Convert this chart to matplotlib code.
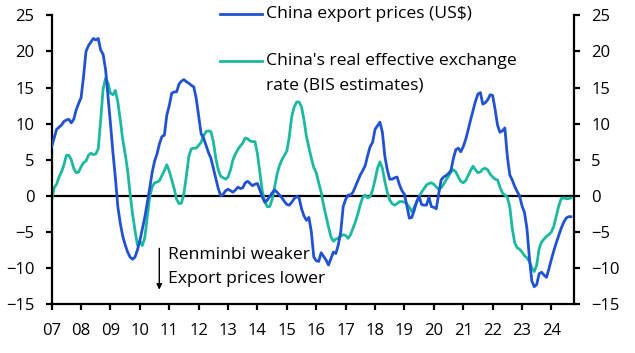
import numpy as np
import matplotlib
matplotlib.use("Agg")
import matplotlib.pyplot as plt
from matplotlib.lines import Line2D

plt.rcParams['font.family'] = ['Open Sans', 'DejaVu Sans']

# Monthly data, Jan 2007 - Sep 2024 (% y/y)
start_year = 2007
export_prices = [
    6.8, 8.0, 9.2, 9.5, 9.8, 10.3, 10.5, 10.6, 10.1, 10.6, 11.9, 12.8,      # 2007
    13.6, 16.5, 20.0, 20.8, 21.3, 21.8, 21.6, 21.8, 20.2, 19.6, 17.5, 13.8,  # 2008
    10.0, 6.0, 2.5, -1.5, -3.8, -5.6, -6.8, -7.8, -8.5, -8.8, -8.5, -7.5,    # 2009
    -6.2, -4.6, -3.0, -1.0, 1.0, 3.2, 4.8, 5.8, 7.2, 8.2, 8.4, 11.2,         # 2010
    12.5, 14.2, 14.4, 14.4, 15.5, 15.9, 16.1, 15.8, 15.6, 15.3, 15.1, 13.5,  # 2011
    11.0, 8.6, 8.0, 7.0, 6.0, 5.2, 3.8, 2.4, 1.0, 0.0, 0.2, 0.7,             # 2012
    0.9, 0.7, 0.5, 0.8, 1.2, 1.0, 1.1, 1.8, 2.0, 1.7, 1.4, 1.6,              # 2013
    1.7, 0.8, -0.2, -0.9, -0.6, -0.1, 0.4, 0.8, 0.5, 0.1, -0.3, -0.8,        # 2014
    -1.2, -1.3, -0.9, -0.4, -0.1, -0.3, -1.8, -2.8, -3.4, -3.0, -5.0, -8.5,  # 2015
    -9.0, -9.1, -7.9, -8.4, -8.9, -9.6, -8.7, -7.8, -8.0, -6.8, -5.0, -1.5,  # 2016
    -0.5, 0.1, 0.1, 0.5, 1.3, 2.1, 2.9, 3.5, 4.2, 5.6, 6.8, 7.4,             # 2017
    9.2, 9.7, 10.2, 8.8, 5.5, 3.6, 2.3, 2.3, 2.5, 2.6, 1.5, 0.7,             # 2018
    0.2, -1.4, -3.1, -3.0, -2.0, -0.8, -0.1, -1.2, -1.3, -1.3, -0.2, -1.5,   # 2019
    -1.6, -1.8, 0.3, 2.2, 2.6, 2.8, 3.1, 3.5, 5.2, 6.4, 6.6, 6.1,            # 2020
    6.8, 7.8, 9.1, 10.5, 11.8, 13.1, 14.1, 14.3, 12.7, 12.9, 13.3, 14.0,     # 2021
    13.9, 12.0, 9.8, 8.8, 9.0, 9.4, 5.5, 2.9, 2.2, 1.3, 0.6, 0.0,            # 2022
    -1.4, -2.3, -4.5, -8.5, -11.8, -12.6, -12.3, -10.8, -10.6, -11.0, -11.3, -10.1,  # 2023
    -8.8, -7.6, -6.5, -5.5, -4.5, -3.7, -3.1, -2.9, -2.9,                    # 2024
]
reer = [
    -0.6, 1.1, 1.6, 2.6, 3.3, 4.3, 5.6, 5.6, 5.0, 3.8, 3.2, 3.3,            # 2007
    4.0, 4.6, 4.8, 5.6, 5.9, 5.7, 5.8, 6.5, 10.5, 14.8, 16.3, 15.6,          # 2008
    14.2, 14.0, 14.6, 13.0, 10.5, 7.8, 5.8, 3.5, 0.3, -2.5, -4.8, -6.8,      # 2009
    -6.3, -6.9, -5.8, -3.0, -0.2, 1.2, 1.8, 1.9, 2.1, 2.8, 3.5, 4.3,         # 2010
    3.4, 2.2, 1.0, -0.5, -1.1, -1.0, 0.4, 2.8, 5.5, 6.5, 6.6, 6.6,           # 2011
    7.0, 7.4, 8.3, 8.9, 9.0, 8.9, 7.5, 5.2, 3.6, 2.7, 2.5, 2.3,              # 2012
    2.6, 3.6, 5.0, 5.8, 6.4, 6.9, 7.3, 8.0, 7.9, 7.6, 7.5, 7.5,              # 2013
    5.8, 3.2, 0.6, -0.8, -1.5, -1.5, -0.5, 1.2, 3.0, 4.2, 5.0, 5.6,          # 2014
    6.2, 8.2, 11.0, 12.3, 13.0, 13.0, 12.3, 10.5, 8.2, 6.7, 5.2, 3.9,        # 2015
    3.2, 1.8, 0.5, -1.3, -2.8, -4.3, -5.7, -6.3, -6.0, -5.9, -5.6, -5.4,     # 2016
    -5.5, -5.9, -5.4, -4.5, -3.6, -2.5, -1.2, -0.2, 0.1, -0.3, -0.1, 0.8,    # 2017
    2.2, 3.8, 4.7, 3.8, 2.0, 0.5, -0.6, -1.1, -1.3, -1.1, -0.8, -0.8,        # 2018
    -0.9, -1.1, -1.6, -2.2, -1.6, -0.9, -0.1, 0.5, 1.0, 1.5, 1.7, 1.8,       # 2019
    1.6, 1.2, 0.9, 1.1, 1.6, 2.2, 2.7, 3.3, 3.6, 3.3, 2.6, 2.0,              # 2020
    1.8, 2.1, 2.8, 3.5, 4.1, 3.6, 3.2, 3.3, 3.7, 3.8, 3.6, 3.0,              # 2021
    2.6, 2.3, 2.2, 1.2, 0.4, 0.1, -0.2, -1.5, -4.5, -6.5, -7.2, -7.4,        # 2022
    -7.8, -8.3, -8.6, -9.1, -10.0, -10.5, -9.6, -7.3, -6.4, -6.0, -5.6, -5.4,  # 2023
    -5.0, -4.2, -2.8, -1.4, -0.4, -0.3, -0.4, -0.4, -0.3,                    # 2024
]
year_ticks = list(range(2007, 2025))
year_labels = [f"{y % 100:02d}" for y in year_ticks]

dates = start_year + np.arange(len(export_prices)) / 12

blue = '#2152D2'
teal = '#1CB8A0'
fs = 12.6

fig = plt.figure(figsize=(6.35, 3.53), dpi=100)
ax = fig.add_axes([0.0814, 0.1388, 0.8226, 0.8176])

ax.axhline(0, color='black', lw=1.6, zorder=1)
ax.plot(dates, export_prices, color=blue, lw=2.0, zorder=3)
ax.plot(dates, reer, color=teal, lw=2.0, zorder=2)

ax.set_xlim(2007, 2024.77)
ax.set_ylim(-15, 25)
ax.set_yticks(range(-15, 30, 5))
ax.set_xticks(year_ticks)
ax.set_xticklabels(year_labels)

ax.spines['top'].set_visible(False)
for s in ['left', 'right', 'bottom']:
    ax.spines[s].set_linewidth(1.6)
ax.tick_params(axis='both', direction='out', length=4.5, width=1.6,
               labelsize=12, pad=8)
ax.tick_params(axis='y', right=True, labelright=True)
ax.tick_params(axis='x', pad=9)

# legend drawn by hand
fig.add_artist(Line2D([220 / 635, 262 / 635], [1 - 14 / 353] * 2,
                      color=blue, lw=2.0))
fig.text(266 / 635, 1 - 14 / 353, "China export prices (US$)",
         fontsize=fs, va='center', ha='left')
fig.add_artist(Line2D([220 / 635, 262 / 635], [1 - 61 / 353] * 2,
                      color=teal, lw=2.0))
fig.text(266 / 635, 1 - 61 / 353, "China's real effective exchange",
         fontsize=fs, va='center', ha='left')
fig.text(266 / 635, 1 - 86 / 353, "rate (BIS estimates)",
         fontsize=fs, va='center', ha='left')

# annotation
ax.annotate("", xy=(2010.66, -13.4), xytext=(2010.66, -6.9),
            arrowprops=dict(arrowstyle='-|>', color='black', lw=1.0,
                            mutation_scale=8))
ax.text(2010.95, -8.2, "Renminbi weaker", fontsize=fs, va='center')
ax.text(2010.95, -11.5, "Export prices lower", fontsize=fs, va='center')

fig.savefig("out.png", dpi=100)
